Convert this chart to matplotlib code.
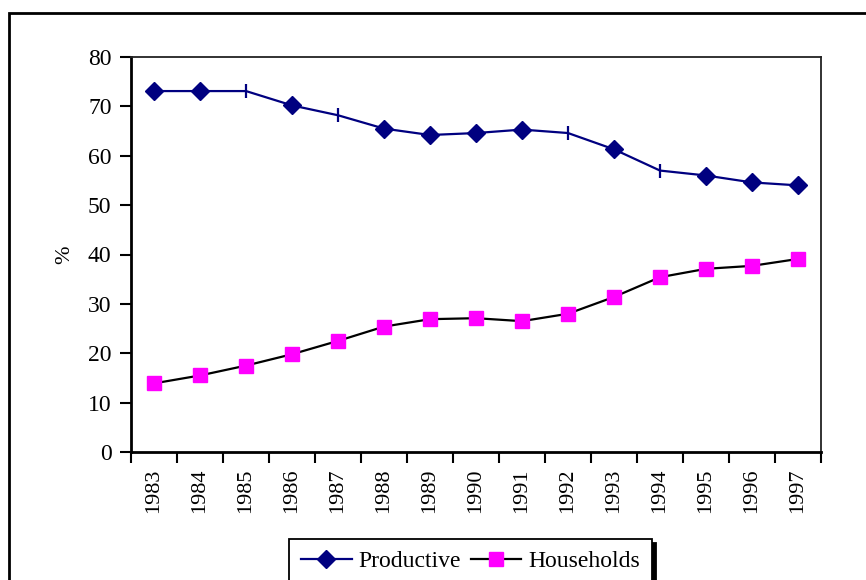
import matplotlib
matplotlib.use("Agg")
import matplotlib.pyplot as plt
from matplotlib.patches import Rectangle

plt.rcParams['font.family'] = ['Liberation Serif', 'DejaVu Serif']

years = ['1983', '1984', '1985', '1986', '1987', '1988', '1989', '1990',
         '1991', '1992', '1993', '1994', '1995', '1996', '1997']
productive = [73.1, 73.1, 73.1, 70.2, 68.2, 65.5, 64.2, 64.6,
              65.3, 64.6, 61.3, 57.0, 56.0, 54.6, 54.0]
households = [13.9, 15.5, 17.5, 19.8, 22.5, 25.4, 26.9, 27.1,
              26.5, 28.0, 31.4, 35.4, 37.1, 37.7, 39.1]
y_ticks = [0, 10, 20, 30, 40, 50, 60, 70, 80]

W, H = 866, 580
fig = plt.figure(figsize=(W / 100, H / 100), dpi=100)
ax = fig.add_axes([131 / W, 1 - 452 / H, 690 / W, 395 / H])

x = list(range(len(years)))
diamond_idx = [0, 1, 3, 5, 6, 7, 8, 10, 12, 13, 14]
tick_idx = [i for i in x if i not in diamond_idx]

navy = '#000080'
ax.plot(x, productive, color=navy, lw=1.6, marker='D', markersize=9,
        markevery=diamond_idx, markerfacecolor=navy, markeredgecolor=navy,
        label='Productive', zorder=3)
ax.plot([x[i] for i in tick_idx], [productive[i] for i in tick_idx],
        linestyle='none', marker='|', markersize=10, markeredgewidth=1.6,
        color=navy, zorder=3)
ax.plot(x, households, color='black', lw=1.6, marker='s', markersize=10.5,
        markerfacecolor='#FF00FF', markeredgecolor='#FF00FF',
        label='Households', zorder=3)

ax.set_xlim(-0.5, len(years) - 0.5)
ax.set_ylim(0, 80)
ax.set_yticks(y_ticks)
ax.set_xticks(x)
ax.set_xticklabels(years, rotation=90)
ax.set_xticks([i - 0.5 for i in range(len(years) + 1)], minor=True)
ax.tick_params(axis='x', which='major', length=0, pad=12, labelsize=16)
ax.tick_params(axis='x', which='minor', length=8, width=1.5, direction='out')
ax.tick_params(axis='y', length=8, width=1.5, direction='out', pad=6, labelsize=17)

for side in ['left', 'bottom']:
    ax.spines[side].set_linewidth(2)
for side in ['top', 'right']:
    ax.spines[side].set_linewidth(1.3)
    ax.spines[side].set_color('#222222')

ax.set_ylabel('%', fontsize=16, labelpad=10)

# outer chart frame
fig.patches.append(Rectangle((9 / W, -0.1), 1.1, (1 - 13 / H) + 0.1,
                             transform=fig.transFigure, fill=False,
                             edgecolor='black', lw=2))

leg = fig.legend(loc='upper left', bbox_to_anchor=(289 / W, 1 - 539 / H),
                 ncol=2, fontsize=17, frameon=True, fancybox=False,
                 shadow={'color': 'black', 'alpha': 1, 'ox': 3, 'oy': -3},
                 borderaxespad=0, handlelength=2.15, handletextpad=0.3,
                 columnspacing=0.4, borderpad=0.5)
leg.get_frame().set_edgecolor('black')
leg.get_frame().set_linewidth(1.3)

fig.savefig('out.png', dpi=100)
